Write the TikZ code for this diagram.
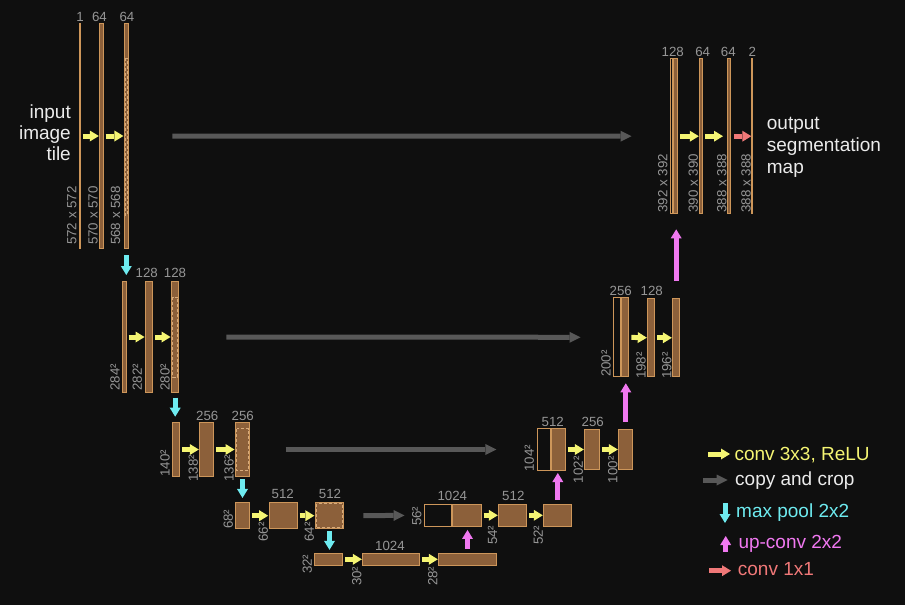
\documentclass[tikz,border=0pt]{standalone}
\usepackage{fontspec}
\setmainfont{Liberation Sans}
\usepackage{tikz}
\usepackage{xcolor}
\usetikzlibrary{arrows.meta,calc}
\definecolor{bgc}{RGB}{15,15,15}
\definecolor{brnc}{RGB}{140,96,58}
\definecolor{tanc}{RGB}{205,150,90}
\definecolor{lblc}{RGB}{150,150,150}
\definecolor{txtc}{RGB}{235,235,235}
\definecolor{ylwc}{RGB}{245,245,115}
\definecolor{gryc}{RGB}{88,88,88}
\definecolor{cync}{RGB}{110,235,240}
\definecolor{magc}{RGB}{240,120,240}
\definecolor{salc}{RGB}{240,120,120}

\begin{document}
\begin{tikzpicture}[x=1pt,y=-1pt,
blk/.style={draw=tanc,fill=brnc,line width=1pt,inner sep=0pt},
cropbox/.style={draw=tanc,fill=bgc,line width=1pt,inner sep=0pt},
dsh/.style={draw=tanc!80!white,line width=1pt,dash pattern=on 3pt off 2pt},
num/.style={text=lblc,font=\fontsize{13.3}{14}\selectfont,inner sep=0pt,anchor=base},
dimlbl/.style={text=lblc,font=\fontsize{13.3}{14}\selectfont,inner sep=0pt,rotate=90,anchor=west},
fat/.style={line width=5pt,-{Triangle[length=9pt,width=11pt,line width=0pt]}},
conv/.style={fat,draw=ylwc,shorten <=2pt,shorten >=0.5pt},
copyc/.style={line width=5pt,draw=gryc,-{Triangle[length=11pt,width=11pt,line width=0pt]}},
pool/.style={fat,draw=cync},
upc/.style={fat,draw=magc},
fin/.style={fat,draw=salc,shorten <=3pt},
lgd/.style={font=\fontsize{19}{21}\selectfont,anchor=base west,inner sep=0pt}]
\useasboundingbox[fill=bgc](0,0)rectangle(905,605);

% contracting path
\node[blk,minimum width=0.5pt,minimum height=225pt](b11)at(80,136){};
\node[blk,minimum width=3.4pt,minimum height=225pt](b12)at(101.5,136){};
\node[blk,minimum width=3.7pt,minimum height=225pt](b13)at(126.3,136){};
\node[blk,minimum width=3.4pt,minimum height=111pt](b21)at(124.5,337){};
\node[blk,minimum width=7.3pt,minimum height=111pt](b22)at(149.2,337){};
\node[blk,minimum width=7.3pt,minimum height=111pt](b23)at(175.2,337){};
\node[blk,minimum width=6.7pt,minimum height=54.6pt](b31)at(176.2,449.5){};
\node[blk,minimum width=14pt,minimum height=54.6pt](b32)at(206.8,449.5){};
\node[blk,minimum width=14pt,minimum height=54.6pt](b33)at(242.5,449.5){};
\node[blk,minimum width=13.7pt,minimum height=26.5pt](b41)at(242.7,515.7){};
\node[blk,minimum width=28pt,minimum height=26.5pt](b42)at(283.2,515.7){};
\node[blk,minimum width=28.3pt,minimum height=26.5pt](b43)at(329.5,515.7){};
\node[blk,minimum width=28.3pt,minimum height=12.5pt](b51)at(328.7,559.3){};
\node[blk,minimum width=56.7pt,minimum height=12.5pt](b52)at(391.2,559.3){};
\node[blk,minimum width=57.4pt,minimum height=12.5pt](b53)at(467.5,559.3){};
\draw[dsh]($(b13.north west)+(1.2,35)$)rectangle($(b13.south east)+(-1.2,-34)$);
\draw[dsh]($(b23.north west)+(1.5,16)$)rectangle($(b23.south east)+(-1.5,-16)$);
\draw[dsh]($(b33.north west)+(1.5,7)$)rectangle($(b33.south east)+(-1.5,-7)$);
\draw[dsh]($(b43.north west)+(1.7,1.7)$)rectangle($(b43.south east)+(-1.7,-1.7)$);

% expansive path
\node[cropbox,minimum width=27.3pt,minimum height=21.7pt](c41)at(438.2,515.3){};
\node[blk,minimum width=28.4pt,minimum height=21.7pt](u41)at(467,515.3){};
\node[blk,minimum width=28pt,minimum height=21.7pt](u42)at(512.8,515.3){};
\node[blk,minimum width=28pt,minimum height=21.7pt](u43)at(557.8,515.3){};
\node[cropbox,minimum width=13.3pt,minimum height=41.4pt](c31)at(543.8,449.5){};
\node[blk,minimum width=13.7pt,minimum height=41.4pt](u31)at(558.3,449.5){};
\node[blk,minimum width=14.7pt,minimum height=40pt](u32)at(592.2,449.5){};
\node[blk,minimum width=14pt,minimum height=40pt](u33)at(625.8,449.5){};
\node[cropbox,minimum width=6.4pt,minimum height=79pt](c21)at(617,337.3){};
\node[blk,minimum width=7.6pt,minimum height=79pt](u21)at(625,337.3){};
\node[blk,minimum width=7pt,minimum height=78pt](u22)at(651.3,337.8){};
\node[blk,minimum width=6.7pt,minimum height=78pt](u23)at(676.2,337.8){};
\node[cropbox,minimum width=2.3pt,minimum height=154.7pt](c11)at(671.7,136.2){};
\node[blk,minimum width=4pt,minimum height=154.7pt](u11)at(675.8,136.2){};
\node[blk,minimum width=3pt,minimum height=154.7pt](u12)at(701.3,136.2){};
\node[blk,minimum width=3pt,minimum height=154.7pt](u13)at(729,136.2){};
\node[blk,minimum width=0.4pt,minimum height=154.7pt](u14)at(752,136.2){};

% channels
\node[num](n11)at(80,21.7){1};
\node[num](n12)at(99.5,21.7){64};
\node[num](n13)at(127,21.7){64};
\node[num](n22)at(146.7,277.7){128};
\node[num](n23)at(175,277.7){128};
\node[num](n32)at(207.3,420){256};
\node[num](n33)at(242.7,420){256};
\node[num](n42)at(282.7,498.5){512};
\node[num](n43)at(330,498.5){512};
\node[num](n52)at(390,550){1024};
\node[num](m41)at(452.3,500.5){1024};
\node[num](m42)at(513.3,500){512};
\node[num](m31)at(552.7,426){512};
\node[num](m32)at(592.7,426){256};
\node[num](m21)at(620.7,295){256};
\node[num](m22)at(651.7,295){128};
\node[num](m11)at(672.7,56.5){128};
\node[num](m12)at(702.7,56.5){64};
\node[num](m13)at(728.3,56.5){64};
\node[num](m14)at(752.3,56.5){2};

% sizes
\node[dimlbl](d11)at(71.7,245){572 x 572};
\node[dimlbl](d12)at(93,245){570 x 570};
\node[dimlbl](d13)at(115.5,245){568 x 568};
\node[dimlbl](d21)at(115,390.7){284²};
\node[dimlbl](d22)at(137.3,390.7){282²};
\node[dimlbl](d23)at(165,390.7){280²};
\node[dimlbl](d31)at(165,476.7){140²};
\node[dimlbl](d32)at(193.3,481.7){138²};
\node[dimlbl](d33)at(229,481.7){136²};
\node[dimlbl](d41)at(228.3,529){68²};
\node[dimlbl](d42)at(263.3,541.7){66²};
\node[dimlbl](d43)at(309.3,541.7){64²};
\node[dimlbl](d51)at(307.3,574){32²};
\node[dimlbl](d52)at(356.7,586){30²};
\node[dimlbl](d53)at(432.7,586){28²};
\node[dimlbl](e41)at(416.7,526){56²};
\node[dimlbl](e42)at(492.5,545){54²};
\node[dimlbl](e43)at(538.3,545){52²};
\node[dimlbl](e31)at(529.3,471.7){104²};
\node[dimlbl](e32)at(578.3,483.3){102²};
\node[dimlbl](e33)at(612.7,483.3){100²};
\node[dimlbl](e21)at(606,377){200²};
\node[dimlbl](e22)at(641,379){198²};
\node[dimlbl](e23)at(666.7,379){196²};
\node[dimlbl](e11)at(662.7,212.7){392 x 392};
\node[dimlbl](e12)at(693.3,212.7){390 x 390};
\node[dimlbl](e13)at(721.7,212.7){388 x 388};
\node[dimlbl](e14)at(746,212.7){388 x 388};

\node[font=\fontsize{19}{21}\selectfont,text=txtc,align=right,anchor=east,inner sep=0pt](inp)at(71,132.3){input\\image\\tile};
\node[font=\fontsize{19}{21.6}\selectfont,text=txtc,align=left,anchor=west,inner sep=0pt](outp)at(766.7,147.3){output\\segmentation\\map};

% conv 3x3
\draw[conv](b11)--(b12);\draw[conv](b12)--(b13);
\draw[conv](b21)--(b22);\draw[conv](b22)--(b23);
\draw[conv](b31)--(b32);\draw[conv](b32)--(b33);
\draw[conv](b41)--(b42);\draw[conv](b42)--(b43);
\draw[conv](b51)--(b52);\draw[conv](b52)--(b53);
\draw[conv](u41)--(u42);\draw[conv](u42)--(u43);
\draw[conv](u31)--(u32);\draw[conv](u32)--(u33);
\draw[conv](u21)--(u22);\draw[conv](u22)--(u23);
\draw[conv](u11)--(u12);\draw[conv,shorten >=4pt](u12)--(u13);
\draw[fin](u13)--(u14);

% max pool
\draw[pool,shorten <=6pt,shorten >=6pt](b13.south)--(b13.south|-b21.north);
\draw[pool,shorten <=4.5pt,shorten >=5pt](b23.south)--(b23.south|-b31.north);
\draw[pool,shorten <=2pt,shorten >=4pt](b33.south)--(b33.south|-b41.north);
\draw[pool,shorten <=1.7pt,shorten >=2.7pt](b43.south)--(b43.south|-b51.north);

% up-conv
\draw[upc,shorten <=3.7pt,shorten >=3.3pt](b53.north)--(b53.north|-u41.south);
\draw[upc,shorten <=4pt,shorten >=2.3pt](u43.north)--(u43.north|-u31.south);
\draw[upc,shorten <=7.3pt,shorten >=6pt](u33.north)--(u33.north|-u21.south);
\draw[upc,shorten <=17.3pt,shorten >=15.3pt](u23.north)--(u23.north|-u11.south);

% copy and crop
\draw[copyc,shorten <=43.7pt,shorten >=38.5pt](b13)--(c11);
\draw[copyc,shorten <=47pt,shorten >=32.8pt](b23)--(c21);
\draw[copyc,shorten <=35.5pt,shorten >=40.2pt](b33)--(c31);
\draw[copyc,shorten <=19.3pt,shorten >=19.5pt](b43)--(c41);

% legend
\node[lgd,text=ylwc](lg1)at(734.3,460){conv 3x3, ReLU};
\node[lgd,text=txtc](lg2)at(735,485){copy and crop};
\node[lgd,text=cync](lg3)at(736,517.3){max pool 2x2};
\node[lgd,text=magc](lg4)at(738.3,548.3){up-conv 2x2};
\node[lgd,text=salc](lg5)at(737.7,575.7){conv 1x1};
\draw[fat,draw=ylwc]($(lg1.base west)+(-26,-6)$)--++(21.7,0);
\draw[copyc]($(lg2.base west)+(-31.7,-5)$)--++(24.4,0);
\draw[pool]($(lg3.base west)+(-11,-14.3)$)--++(0,20);
\draw[upc]($(lg4.base west)+(-12.6,3.4)$)--++(0,-15.7);
\draw[fin,shorten <=0pt]($(lg5.base west)+(-28.7,-5)$)--++(22,0);
\end{tikzpicture}
\end{document}
